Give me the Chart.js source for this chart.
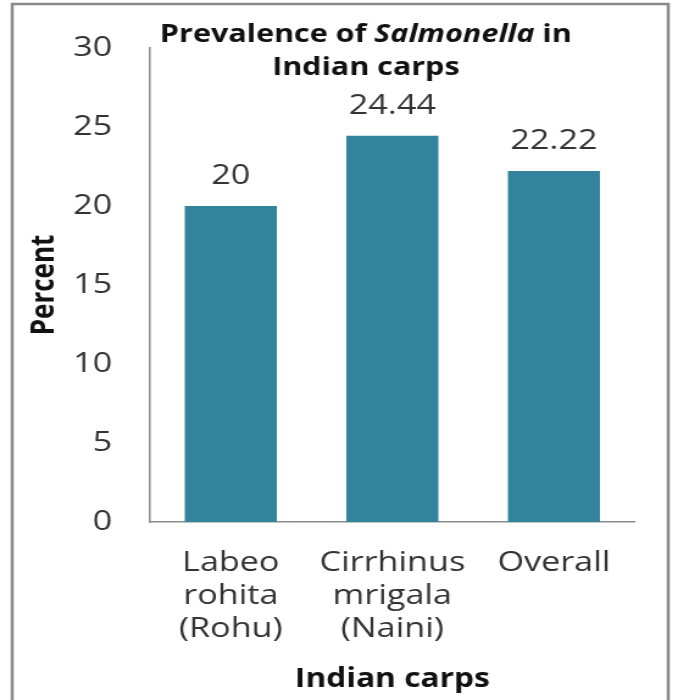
<!DOCTYPE html>
<html>
<head>
<meta charset="utf-8">
<script src="https://cdn.jsdelivr.net/npm/chart.js@4.4.1/dist/chart.umd.min.js"></script>
<style>
  html, body { margin: 0; padding: 0; background: #fff; }
  #grafico { display: block; }
</style>
</head>
<body>
<!-- the original picture is stretched sideways, so the canvas is drawn narrower and widened by css -->
<canvas id="grafico" width="556" height="700" style="width:678px;height:700px"></canvas>
<script>
// datos
const categorias = [['Labeo', 'rohita', '(Rohu)'], ['Cirrhinus', 'mrigala', '(Naini)'], 'Overall'];
const prevalencia = [20, 24.44, 22.22];
const etiquetasValor = ['20', '24.44', '22.22'];
const ticksY = [0, 5, 10, 15, 20, 25, 30];

const fuente = "'Open Sans', 'DejaVu Sans', sans-serif";

// fondo blanco y marco gris
const marco = {
  id: 'marco',
  beforeDraw(chart) {
    const ctx = chart.ctx;
    ctx.save();
    ctx.fillStyle = '#fff';
    ctx.fillRect(0, 0, chart.width, chart.height);
    ctx.strokeStyle = '#888';
    ctx.lineWidth = 2.5;
    ctx.strokeRect(10, 4, 538, 720);
    ctx.restore();
  }
};

// título con "Salmonella" en cursiva
const titulo = {
  id: 'titulo',
  afterDraw(chart) {
    const ctx = chart.ctx;
    const partes = [
      ['Prevalence of ', 'bold 25px ' + fuente],
      ['Salmonella', 'italic bold 25px ' + fuente],
      [' in', 'bold 25px ' + fuente]
    ];
    ctx.save();
    ctx.fillStyle = '#111';
    ctx.textBaseline = 'middle';
    ctx.textAlign = 'left';
    let total = 0;
    partes.forEach(p => { ctx.font = p[1]; total += ctx.measureText(p[0]).width; });
    let x = 300 - total / 2;
    partes.forEach(p => {
      ctx.font = p[1];
      ctx.fillText(p[0], x, 35);
      x += ctx.measureText(p[0]).width;
    });
    ctx.font = 'bold 25px ' + fuente;
    ctx.textAlign = 'center';
    ctx.fillText('Indian carps', 300, 68);
    ctx.restore();
  }
};

// valores encima de las barras
const valores = {
  id: 'valores',
  afterDatasetsDraw(chart) {
    const ctx = chart.ctx;
    const meta = chart.getDatasetMeta(0);
    ctx.save();
    ctx.font = '28px ' + fuente;
    ctx.fillStyle = '#333';
    ctx.textAlign = 'center';
    ctx.textBaseline = 'middle';
    meta.data.forEach((barra, i) => {
      ctx.fillText(etiquetasValor[i], barra.x, barra.y - 30);
    });
    ctx.restore();
  }
};

const ctx = document.getElementById('grafico').getContext('2d');
const grafico = new Chart(ctx, {
  type: 'bar',
  data: {
    labels: categorias,
    datasets: [{
      label: 'Prevalence',
      data: prevalencia,
      backgroundColor: '#31849b',
      borderWidth: 0,
      barPercentage: 0.57,
      categoryPercentage: 1
    }]
  },
  options: {
    responsive: false,
    animation: false,
    devicePixelRatio: 1,
    layout: { padding: { left: 0, right: 35.5, top: 48, bottom: 0 } },
    plugins: {
      legend: { display: false },
      tooltip: { enabled: false }
    },
    scales: {
      x: {
        grid: { display: false, drawTicks: false },
        border: { display: true, color: '#8c8c8c', width: 1.5 },
        ticks: {
          color: '#333',
          font: { family: fuente, size: 28, lineHeight: '33px' },
          padding: 25,
          maxRotation: 0,
          autoSkip: false
        },
        title: {
          display: true,
          text: 'Indian carps',
          color: '#111',
          font: { family: fuente, size: 26, weight: 'bold' },
          padding: { top: 0, bottom: 5 }
        },
        afterFit(scale) { scale.height = 178; }
      },
      y: {
        min: 0,
        max: 30,
        grid: { display: false, drawTicks: false },
        border: { display: true, color: '#8c8c8c', width: 1.5 },
        afterBuildTicks(scale) { scale.ticks = ticksY.map(v => ({ value: v })); },
        ticks: {
          color: '#333',
          font: { family: fuente, size: 28 },
          padding: 31
        },
        title: {
          display: true,
          text: 'Percent',
          color: '#111',
          font: { family: fuente, size: 26, weight: 'bold' },
          padding: { top: 21, bottom: 0 }
        },
        afterFit(scale) { scale.width = 123; }
      }
    }
  },
  plugins: [marco, titulo, valores]
});
</script>
</body>
</html>
